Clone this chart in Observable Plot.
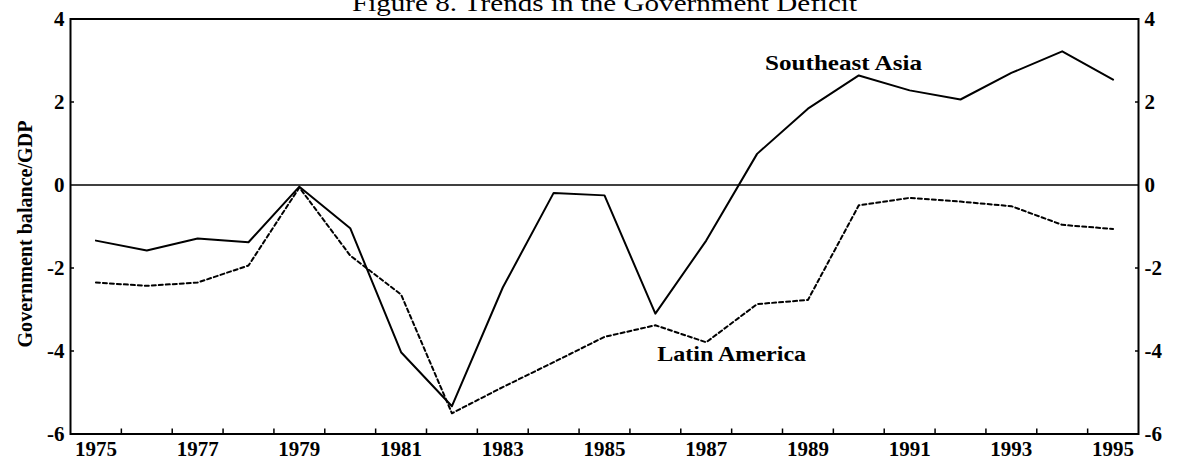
<!DOCTYPE html>
<html><head><meta charset="utf-8">
<script src="https://cdn.jsdelivr.net/npm/d3@7"></script>
<script src="https://cdn.jsdelivr.net/npm/@observablehq/plot@0.6"></script>
<style>html,body{margin:0;padding:0;background:#fff;}</style>
</head><body><div id="chart"></div>
<script>
const years = [1975,1976,1977,1978,1979,1980,1981,1982,1983,1984,1985,1986,1987,1988,1989,1990,1991,1992,1993,1994,1995];
const southeastAsia = [-1.34,-1.58,-1.29,-1.38,-0.04,-1.04,-4.03,-5.33,-2.47,-0.19,-0.25,-3.10,-1.34,0.75,1.84,2.64,2.28,2.06,2.70,3.22,2.54];
const latinAmerica = [-2.35,-2.43,-2.35,-1.94,-0.06,-1.70,-2.64,-5.50,-4.87,-4.27,-3.66,-3.38,-3.79,-2.87,-2.77,-0.49,-0.31,-0.40,-0.51,-0.96,-1.06];
const xLabelYears = [1975,1977,1979,1981,1983,1985,1987,1989,1991,1993,1995];
const xTickBoundaries = [1975.5,1976.5,1977.5,1978.5,1979.5,1980.5,1981.5,1982.5,1983.5,1984.5,1985.5,1986.5,1987.5,1988.5,1989.5,1990.5,1991.5,1992.5,1993.5,1994.5];
const yTickValues = [4,2,0,-2,-4,-6];
const yInnerTicks = [2,-2,-4];
const seriesNames = ["Southeast Asia","Latin America"];
const seriesLabelYears = [1989.7,1987.5];
const seriesLabelValues = [2.93,-4.08];
const titleText = "Figure 8. Trends in the Government Deficit";
const yAxisTitle = "Government balance/GDP";

const sea = years.map((y,i)=>({year:y, value:southeastAsia[i]}));
const la = years.map((y,i)=>({year:y, value:latinAmerica[i]}));
const labels = seriesNames.map((n,i)=>({name:n, year:seriesLabelYears[i], value:seriesLabelValues[i]}));
const fmt = d => (d < 0 ? "-" + Math.abs(d) : String(d));

const chart = Plot.plot({
  width: 1182,
  height: 462,
  marginLeft: 70,
  marginRight: 44,
  marginTop: 18.5,
  marginBottom: 28.5,
  style: {fontFamily: "'Liberation Serif', serif", fontSize: "21px", fontWeight: "bold", background: "white", color: "black"},
  x: {domain: [1974.5, 1995.5]},
  y: {domain: [-6, 4]},
  marks: [
    Plot.ruleY([0], {strokeWidth: 1.6}),
    Plot.line(la, {x: "year", y: "value", strokeWidth: 2, strokeDasharray: "4,3"}),
    Plot.line(sea, {x: "year", y: "value", strokeWidth: 2}),
    Plot.frame({strokeWidth: 2}),
    Plot.axisX(xLabelYears, {anchor: "bottom", tickSize: 0, tickPadding: 7, tickFormat: d => String(d), label: null}),
    Plot.axisX(xTickBoundaries, {anchor: "bottom", tickSize: 5, dy: -5, fill: "none", label: null, strokeWidth: 1.5}),
    Plot.axisY(yTickValues, {anchor: "left", tickSize: 0, tickPadding: 6, tickFormat: fmt, label: null}),
    Plot.axisY(yTickValues, {anchor: "right", tickSize: 0, tickPadding: 6, tickFormat: fmt, label: null}),
    Plot.axisY(yInnerTicks, {anchor: "left", tickSize: 4, dx: 4, fill: "none", label: null, strokeWidth: 1.5}),
    Plot.axisY(yInnerTicks, {anchor: "right", tickSize: 4, dx: -4, fill: "none", label: null, strokeWidth: 1.5}),
    Plot.text(labels, {x: "year", y: "value", text: "name", fontSize: 21, fontWeight: "bold"}),
    Plot.text([titleText], {frameAnchor: "top", lineAnchor: "bottom", textAnchor: "middle", dy: -8.5, fontSize: 24, fontWeight: "normal"}),
    Plot.text([yAxisTitle], {frameAnchor: "left", textAnchor: "middle", lineAnchor: "middle", rotate: -90, dx: -45, dy: 7.5, fontSize: 20, fontWeight: "bold"})
  ]
});
document.getElementById("chart").appendChild(chart);
const svg = d3.select(chart);
const stretch = {[titleText]: 505, [yAxisTitle]: 227, "Southeast Asia": 157, "Latin America": 149};
svg.selectAll("text").each(function(){
  const t = this.textContent;
  if (stretch[t]) d3.select(this).attr("textLength", stretch[t]).attr("lengthAdjust", "spacingAndGlyphs");
});
</script>
</body></html>
